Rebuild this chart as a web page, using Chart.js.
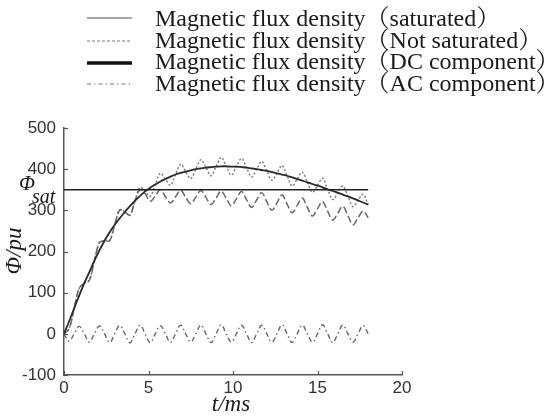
<!DOCTYPE html>
<html>
<head>
<meta charset="utf-8">
<script src="https://cdn.jsdelivr.net/npm/chart.js@4"></script>
<style>
    html, body { margin: 0; padding: 0; background: #fff; }
</style>
</head>
<body>
<canvas id="ChartFlux" width="553" height="416"></canvas>
<script>
// time axis (ms)
var times = [0, 0.3, 0.6, 0.9, 1.2, 1.5, 1.8, 2.1, 2.4, 2.7,
    3.0, 3.3, 3.6, 3.9, 4.2, 4.5, 4.8, 5.1, 5.4, 5.7,
    6.0, 6.3, 6.6, 6.9, 7.2, 7.5, 7.8, 8.1, 8.4, 8.7,
    9.0, 9.3, 9.6, 9.9, 10.2, 10.5, 10.8, 11.1, 11.4, 11.7,
    12.0, 12.3, 12.6, 12.9, 13.2, 13.5, 13.8, 14.1, 14.4, 14.7,
    15.0, 15.3, 15.6, 15.9, 16.2, 16.5, 16.8, 17.1, 17.4, 17.7, 18.0];

// flux density, saturated
var fluxSaturated = [0, 12, 62, 111, 123, 130, 178, 222, 226, 226,
    265, 301, 296, 288, 323, 350, 340, 322, 335, 350,
    333, 318, 333, 349, 332, 316, 332, 348, 331, 314,
    330, 347, 329, 311, 328, 346, 326, 307, 325, 343,
    321, 300, 318, 337, 315, 294, 312, 330, 307, 286,
    304, 321, 298, 276, 293, 310, 287, 265, 282, 298, 282];

// flux density, not saturated
var fluxNotSaturated = [0, 12, 62, 111, 123, 130, 178, 222, 226, 226,
    265, 301, 296, 288, 323, 356, 346, 334, 363, 390,
    376, 361, 387, 412, 394, 377, 400, 423, 404, 384,
    406, 429, 407, 386, 406, 426, 404, 381, 400, 419,
    396, 373, 390, 409, 384, 359, 376, 393, 368, 344,
    360, 378, 351, 326, 343, 359, 334, 309, 324, 339, 314];

// DC component
var fluxDC = [0, 30, 62, 93, 123, 150, 178, 203, 226, 247,
    265, 281, 296, 310, 323, 335, 346, 355, 363, 370,
    376, 382, 387, 391, 394, 397, 400, 402, 404, 405,
    406, 407, 407, 406, 406, 405, 404, 402, 400, 398,
    396, 393, 390, 387, 384, 380, 376, 372, 368, 364,
    360, 356, 351, 347, 343, 338, 334, 329, 324, 319, 314];

// AC component
var fluxAC = [0, -18, 0, 18, 0, -20, 0, 19, 0, -21,
    0, 20, 0, -22, 0, 21, 0, -21, 0, 20,
    0, -21, 0, 21, 0, -20, 0, 21, 0, -21,
    0, 22, 0, -20, 0, 21, 0, -21, 0, 21,
    0, -20, 0, 22, 0, -21, 0, 21, 0, -20,
    0, 22, 0, -21, 0, 21, 0, -20, 0, 20, 0];

// saturation level
var satLevel = 350;
var satRange = [0, 18];

var legendLabels = [
    "Magnetic flux density（saturated）",
    "Magnetic flux density（Not saturated）",
    "Magnetic flux density（DC component）",
    "Magnetic flux density（AC component）"
];

var xTicks = [0, 5, 10, 15, 20];
var yTicks = [-100, 0, 100, 200, 300, 400, 500];

function ToPoints(xs, ys) {
    var points = [];
    var index = 0;
    while (index < ys.length) {
        points.push({ x: xs[index], y: ys[index] });
        index++;
    }
    return points;
}

var serif = "'Liberation Serif', 'Times New Roman', 'Noto Serif CJK SC', 'Noto Sans CJK SC', serif";

var fluxLegend = {
    id: 'fluxLegend',
    afterDraw: function (chart) {
        var ctx = chart.ctx;
        var rows = [18, 41, 63, 84];
        var bases = [26, 48, 69, 91];
        ctx.save();
        chart.data.datasets.forEach(function (ds) {
            if (ds.legendRow === undefined) return;
            var r = ds.legendRow;
            ctx.beginPath();
            ctx.setLineDash(ds.legendDash);
            ctx.lineWidth = ds.legendWidth;
            ctx.strokeStyle = ds.legendColor;
            ctx.moveTo(87, rows[r]);
            ctx.lineTo(132, rows[r]);
            ctx.stroke();
            ctx.setLineDash([]);
            ctx.fillStyle = '#1a1a1a';
            ctx.font = "24px " + serif;
            ctx.textBaseline = 'alphabetic';
            ctx.textAlign = 'left';
            ctx.fillText(ds.label, 155, bases[r]);
        });
        ctx.restore();
    }
};

var axisExtras = {
    id: 'axisExtras',
    afterDraw: function (chart) {
        var ctx = chart.ctx;
        var xs = chart.scales.x;
        var ys = chart.scales.y;
        var area = chart.chartArea;
        ctx.save();
        ctx.strokeStyle = '#555';
        ctx.lineWidth = 1.2;
        yTicks.forEach(function (v) {
            var py = Math.round(ys.getPixelForValue(v)) + 0.5;
            ctx.beginPath();
            ctx.moveTo(area.left, py);
            ctx.lineTo(area.left + 4, py);
            ctx.stroke();
        });
        xTicks.forEach(function (v) {
            var px = Math.round(xs.getPixelForValue(v)) + 0.5;
            ctx.beginPath();
            ctx.moveTo(px, area.bottom);
            ctx.lineTo(px, area.bottom - 4);
            ctx.stroke();
        });

        ctx.fillStyle = '#1a1a1a';
        // x title
        ctx.font = "italic 23px " + serif;
        ctx.textAlign = 'center';
        ctx.textBaseline = 'alphabetic';
        ctx.fillText("t/ms", 231, 411);
        // y title
        ctx.save();
        ctx.translate(21, 251);
        ctx.rotate(-Math.PI / 2);
        ctx.fillText("Φ/pu", 0, 0);
        ctx.restore();
        // saturation label
        ctx.textAlign = 'left';
        ctx.font = "italic 21px " + serif;
        ctx.fillText("Φ", 19, 190);
        ctx.font = "italic 20px " + serif;
        ctx.fillText("sat", 32, 203);
        ctx.restore();
    }
};

var ctx = document.getElementById('ChartFlux').getContext('2d');

var graph = new Chart(ctx, {
    type: 'line',
    data: {
        datasets: [
            {
                label: legendLabels[3],
                data: ToPoints(times, fluxAC),
                borderColor: '#666',
                borderWidth: 1.4,
                borderDash: [5, 3, 1.5, 3],
                tension: 0.4,
                legendRow: 3,
                legendDash: [4, 3, 1.5, 3],
                legendWidth: 1.2,
                legendColor: '#777',
                order: 5
            },
            {
                label: legendLabels[1],
                data: ToPoints(times, fluxNotSaturated),
                borderColor: '#777',
                borderWidth: 1.4,
                borderDash: [2, 2],
                tension: 0.35,
                legendRow: 1,
                legendDash: [3, 2],
                legendWidth: 1.2,
                legendColor: '#777',
                order: 4
            },
            {
                label: legendLabels[0],
                data: ToPoints(times, fluxSaturated),
                borderColor: '#666',
                borderWidth: 1.5,
                borderDash: [7, 3],
                tension: 0.35,
                legendRow: 0,
                legendDash: [],
                legendWidth: 1.5,
                legendColor: '#888',
                order: 3
            },
            {
                label: 'sat',
                data: [{ x: satRange[0], y: satLevel }, { x: satRange[1], y: satLevel }],
                borderColor: '#222',
                borderWidth: 1.3,
                tension: 0,
                order: 2
            },
            {
                label: legendLabels[2],
                data: ToPoints(times, fluxDC),
                borderColor: '#2a2a2a',
                borderWidth: 1.8,
                tension: 0.4,
                legendRow: 2,
                legendDash: [],
                legendWidth: 3.5,
                legendColor: '#111',
                order: 1
            }
        ]
    },
    options: {
        responsive: false,
        animation: false,
        layout: { padding: { top: 128, left: 0, right: 151, bottom: 0 } },
        elements: { point: { radius: 0 } },
        plugins: {
            legend: { display: false },
            tooltip: { enabled: false },
            title: { display: false }
        },
        scales: {
            x: {
                type: 'linear',
                min: 0,
                max: 20,
                afterFit: function (scale) { scale.height = 41; },
                afterBuildTicks: function (scale) {
                    scale.ticks = xTicks.map(function (v) { return { value: v }; });
                },
                grid: { display: false, drawTicks: false },
                border: { display: true, color: '#555', width: 1.5 },
                ticks: {
                    padding: 3,
                    color: '#333',
                    font: { family: "'Liberation Sans', Arial, sans-serif", size: 17 },
                    maxRotation: 0
                }
            },
            y: {
                min: -100,
                max: 500,
                afterFit: function (scale) { scale.width = 64; },
                afterBuildTicks: function (scale) {
                    scale.ticks = yTicks.map(function (v) { return { value: v }; });
                },
                grid: { display: false, drawTicks: false },
                border: { display: true, color: '#555', width: 1.5 },
                ticks: {
                    padding: 8,
                    color: '#333',
                    font: { family: "'Liberation Sans', Arial, sans-serif", size: 17 }
                }
            }
        }
    },
    plugins: [fluxLegend, axisExtras]
});
</script>
</body>
</html>
